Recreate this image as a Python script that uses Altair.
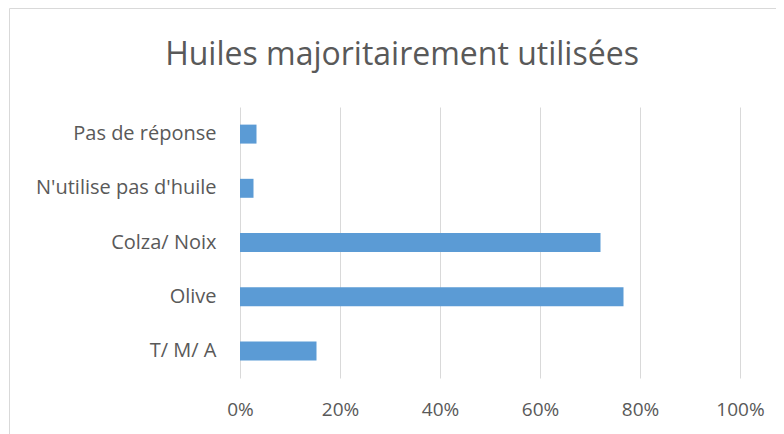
import altair as alt
import pandas as pd

categories = ["Pas de réponse", "N'utilise pas d'huile", "Colza/ Noix", "Olive", "T/ M/ A"]
values = [0.033, 0.027, 0.721, 0.767, 0.153]
title_text = "Huiles majoritairement utilisées"

df = pd.DataFrame({"cat": categories, "val": values})

FONT = "Open Sans"
TXT = "#595959"

bars = alt.Chart(df).mark_bar(color="#5B9BD5").encode(
    x=alt.X("val:Q", scale=alt.Scale(domain=[0, 1], nice=False),
            axis=alt.Axis(format="%", values=[0, 0.2, 0.4, 0.6, 0.8, 1.0], title=None,
                          domain=False, ticks=False, grid=True, gridColor="#D9D9D9",
                          gridWidth=1, labelPadding=22, labelFontSize=19, labelFlush=False,
                          labelColor=TXT, labelFont=FONT)),
    y=alt.Y("cat:N", sort=categories,
            scale=alt.Scale(paddingInner=0.65, paddingOuter=0.325),
            axis=alt.Axis(title=None, domain=False, ticks=False, labelPadding=24,
                          labelFontSize=20, labelColor=TXT, labelFont=FONT, labelLimit=300)),
)

border = alt.Chart(pd.DataFrame({"a": [0]})).mark_rect(
    fill=None, stroke="#D9D9D9", strokeWidth=1
).encode(x=alt.value(-230.5), x2=alt.value(700), y=alt.value(-98.5), y2=alt.value(400))

title = alt.Chart(pd.DataFrame({"t": [title_text]})).mark_text(
    font=FONT, fontSize=32, color=TXT, align="center", baseline="alphabetic"
).encode(text="t:N", x=alt.value(162), y=alt.value(-42))

chart = alt.layer(border, bars, title).properties(
    width=500, height=271,
    autosize=alt.AutoSizeParams(type="none"),
    padding={"left": 232, "top": 99, "right": 36, "bottom": 56},
    background="white",
).configure_view(stroke=None)

chart.save("out.html", embed_options={"renderer": "svg", "actions": False})
